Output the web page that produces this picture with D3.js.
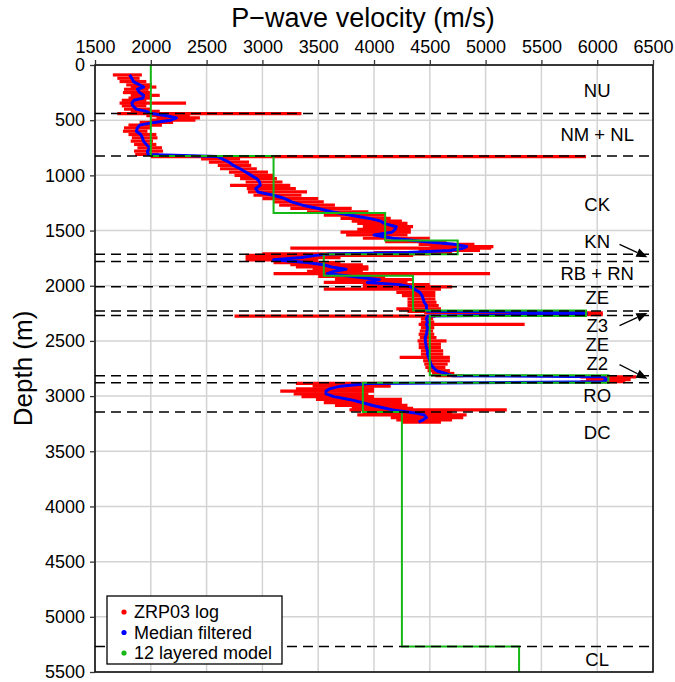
<!DOCTYPE html>
<html>
<head>
<meta charset="utf-8">
<title>P-wave velocity log</title>
<script src="https://d3js.org/d3.v7.min.js"></script>
<style>
  body { margin: 0; background: #fff; }
  text { font-family: "Liberation Sans", Arial, Helvetica, sans-serif; }
</style>
</head>
<body>
<script>
var w = 675, h = 682;

// axis ticks
var velTicks = [1500, 2000, 2500, 3000, 3500, 4000, 4500, 5000, 5500, 6000, 6500];
var depthTicks = [0, 500, 1000, 1500, 2000, 2500, 3000, 3500, 4000, 4500, 5000, 5500];

// ZRP03 log: depth, median filtered value, and low/high spread of the raw log
var logDepth = [90, 120, 150, 180, 200, 220, 250, 275, 300, 320, 345, 370, 400, 420, 440, 460, 480, 500, 520, 545,
  570, 600, 630, 660, 690, 720, 750, 780, 810, 830, 850, 880, 910, 940, 970, 1000, 1030, 1060, 1090, 1120,
  1150, 1180, 1210, 1240, 1270, 1300, 1330, 1360, 1390, 1415, 1435, 1465, 1490, 1515, 1540, 1570, 1600, 1625, 1645, 1660,
  1680, 1700, 1712, 1725, 1745, 1765, 1790, 1810, 1830, 1850, 1870, 1890, 1915, 1945, 1970, 1990, 2010, 2030, 2060, 2090,
  2120, 2150, 2180, 2210, 2232, 2245, 2262, 2275, 2300, 2330, 2350, 2380, 2410, 2440, 2470, 2500, 2530, 2560, 2590, 2620,
  2650, 2680, 2710, 2740, 2770, 2795, 2815, 2825, 2850, 2870, 2885, 2910, 2935, 2955, 2980, 3005, 3030, 3060, 3085, 3110,
  3125, 3150, 3170, 3195, 3215, 3235];
var logMedian = [1810, 1830, 1845, 1900, 1935, 1880, 1900, 1935, 1930, 1850, 1830, 1840, 1870, 1960, 2010, 2140, 2230, 2180, 2030, 1900,
  1880, 1870, 1910, 1925, 1935, 1960, 1990, 1970, 1975, 2600, 2640, 2700, 2740, 2800, 2850, 2900, 2950, 2975, 2980, 2940,
  2960, 3100, 3200, 3260, 3360, 3500, 3620, 3780, 3960, 4060, 4090, 4200, 4190, 4160, 4000, 4170, 4440, 4720, 4830, 4800,
  4680, 4300, 3600, 3480, 3350, 3100, 3400, 3550, 3620, 3750, 3640, 3580, 3790, 4050, 3940, 4230, 4330, 4360, 4410, 4430,
  4440, 4450, 4470, 4470, 4480, 5900, 5900, 4480, 4470, 4480, 4470, 4480, 4475, 4470, 4460, 4460, 4465, 4470, 4480, 4480,
  4490, 4500, 4510, 4530, 4560, 4640, 4700, 6050, 6090, 6050, 3950, 3700, 3600, 3570, 3570, 3640, 3780, 3900, 3990, 4100,
  4170, 4350, 4450, 4470, 4440, 4400];
var logLow = [1660, 1700, 1720, 1780, 1820, 1760, 1750, 1820, 1800, 1740, 1720, 1740, 1760, 1820, 1700, 1960, 2050, 2000, 1900, 1800,
  1760, 1750, 1800, 1830, 1820, 1850, 1880, 1850, 1860, 2000, 2450, 2520, 2600, 2620, 2700, 2750, 2800, 2850, 2710, 2860,
  2870, 2920, 3000, 3100, 3150, 3250, 3400, 3550, 3700, 3800, 3850, 3900, 3850, 3700, 3750, 3900, 4100, 4400, 4500, 3250,
  4400, 4000, 3000, 2850, 2850, 2850, 3100, 3250, 3300, 3450, 3400, 3100, 3500, 3650, 3550, 3900, 3900, 3550, 4200, 4250,
  4300, 4300, 4300, 4200, 4300, 4450, 5800, 2750, 4420, 4420, 4400, 4420, 4410, 4400, 4410, 4390, 4400, 4400, 4420, 4420,
  4230, 4440, 4450, 4460, 4480, 4520, 4550, 5850, 5900, 5850, 3300, 3450, 3300, 3160, 3280, 3350, 3480, 3550, 3650, 3800,
  3780, 3900, 3850, 4150, 4200, 4250];
var logHigh = [1920, 1900, 1960, 2010, 2050, 1980, 2000, 2080, 2010, 1960, 2316, 1960, 2000, 2080, 3350, 2350, 2440, 2400, 2200, 2100,
  2000, 1970, 2050, 2060, 2020, 2050, 2100, 2110, 2070, 5900, 2800, 2880, 2900, 2950, 3050, 3100, 3130, 3180, 3250, 3300,
  3400, 3350, 3500, 3550, 3650, 3800, 3950, 4100, 4150, 4250, 4300, 4350, 4330, 4330, 4300, 4500, 4650, 4900, 5070, 5050,
  4950, 4700, 4500, 4350, 3700, 3500, 3700, 3900, 3950, 3950, 3900, 5040, 4100, 4350, 4300, 4500, 4700, 4600, 4550, 4550,
  4550, 4560, 4580, 4600, 4600, 6050, 6050, 4550, 4530, 4540, 5350, 4540, 4530, 4540, 4560, 4650, 4600, 4600, 4620, 4620,
  4680, 4680, 4660, 4640, 4680, 4720, 4800, 6350, 6300, 6250, 4150, 4150, 4000, 4000, 3950, 4000, 4250, 4250, 4300, 4350,
  5190, 4700, 4830, 4800, 4700, 4600];

// 12 layered model
var layerTop = [0, 825, 1340, 1590, 1715, 1910, 2225, 2275, 2812, 2880, 3145, 5270];
var layerBottom = [825, 1340, 1590, 1715, 1910, 2225, 2275, 2812, 2880, 3145, 5270, 5500];
var layerVel = [2000, 3100, 4100, 4750, 3550, 4350, 5900, 4500, 6100, 3900, 4250, 5300];

// formation boundaries and names
var boundaries = [440, 825, 1715, 1780, 2010, 2230, 2270, 2815, 2878, 3145, 5270];
var unitNames = ["NU", "NM + NL", "CK", "KN", "RB + RN", "ZE", "Z3", "ZE", "Z2", "RO", "DC", "CL"];
var unitDepth = [227, 634, 1268, 1604, 1885, 2111, 2365, 2537, 2709, 2999, 3334, 5391];

// arrows for the thin units: [v0, d0, v1, d1]
var arrows = [[6200, 1625, 6450, 1742], [6200, 2362, 6450, 2246], [6200, 2715, 6450, 2842]];

var legendNames = ["ZRP03 log", "Median filtered", "12 layered model"];
var colRed = "#ff0000", colBlue = "#0000ff", colGreen = "#16b816";
var legendCols = [colRed, colBlue, colGreen];

var svg = d3.select("body").append("svg").attr("width", w).attr("height", h);

var x = d3.scaleLinear().domain([1500, 6500]).range([95, 653]);
var y = d3.scaleLinear().domain([0, 5500]).range([65, 672]);

// grid
svg.append("g").selectAll("line").data(velTicks).enter().append("line")
  .attr("x1", function(d){ return x(d); }).attr("x2", function(d){ return x(d); })
  .attr("y1", y(0)).attr("y2", y(5500))
  .attr("stroke", "#d3d3d3").attr("stroke-width", 1.5);
svg.append("g").selectAll("line").data(depthTicks).enter().append("line")
  .attr("y1", function(d){ return y(d); }).attr("y2", function(d){ return y(d); })
  .attr("x1", x(1500)).attr("x2", x(6500))
  .attr("stroke", "#d3d3d3").attr("stroke-width", 1.5);

// raw log spread
svg.append("g").selectAll("line").data(logDepth).enter().append("line")
  .attr("x1", function(d, i){ return x(logLow[i]); })
  .attr("x2", function(d, i){ return x(logHigh[i]); })
  .attr("y1", function(d){ return y(d); })
  .attr("y2", function(d){ return y(d); })
  .attr("stroke", colRed).attr("stroke-width", 3.2);

// median filtered
var medLine = d3.line()
  .x(function(d, i){ return x(logMedian[i]); })
  .y(function(d){ return y(d); });
svg.append("path").datum(logDepth).attr("d", medLine)
  .attr("fill", "none").attr("stroke", colBlue).attr("stroke-width", 3)
  .attr("stroke-linejoin", "round");

// layered model as steps
var modelPts = [];
layerVel.forEach(function(v, i){
  modelPts.push([v, layerTop[i]]);
  modelPts.push([v, layerBottom[i]]);
});
svg.append("path").datum(modelPts)
  .attr("d", d3.line().x(function(d){ return x(d[0]); }).y(function(d){ return y(d[1]); }))
  .attr("fill", "none").attr("stroke", colGreen).attr("stroke-width", 2);

// boundaries
svg.append("g").selectAll("line").data(boundaries).enter().append("line")
  .attr("x1", x(1500)).attr("x2", x(6500))
  .attr("y1", function(d){ return y(d); }).attr("y2", function(d){ return y(d); })
  .attr("stroke", "#000").attr("stroke-width", 1.5).attr("stroke-dasharray", "10,6");

// unit names
svg.append("g").selectAll("text").data(unitNames).enter().append("text")
  .attr("x", x(6000))
  .attr("y", function(d, i){ return y(unitDepth[i]); })
  .attr("dy", "0.35em")
  .attr("text-anchor", "middle")
  .attr("font-size", "18.5px")
  .text(function(d){ return d; });

// arrows
arrows.forEach(function(a){
  var x0 = x(a[0]), y0 = y(a[1]), x1 = x(a[2]), y1 = y(a[3]);
  var ang = Math.atan2(y1 - y0, x1 - x0);
  var len = 11, half = 4.5;
  var bx = x1 - len * Math.cos(ang), by = y1 - len * Math.sin(ang);
  svg.append("line").attr("x1", x0).attr("y1", y0).attr("x2", bx).attr("y2", by)
    .attr("stroke", "#000").attr("stroke-width", 1.3);
  var pts = [[x1, y1],
    [bx + half * Math.sin(ang), by - half * Math.cos(ang)],
    [bx - half * Math.sin(ang), by + half * Math.cos(ang)]];
  svg.append("polygon").attr("points", pts.map(function(p){ return p.join(","); }).join(" "))
    .attr("fill", "#000");
});

// frame
svg.append("rect").attr("x", x(1500)).attr("y", y(0))
  .attr("width", x(6500) - x(1500)).attr("height", y(5500) - y(0))
  .attr("fill", "none").attr("stroke", "#000").attr("stroke-width", 1.5);

// axes
var xAxis = svg.append("g").attr("transform", "translate(0," + y(0) + ")")
  .call(d3.axisTop(x).tickValues(velTicks).tickSize(5).tickPadding(7).tickFormat(d3.format("d")));
var yAxis = svg.append("g").attr("transform", "translate(" + x(1500) + ",0)")
  .call(d3.axisLeft(y).tickValues(depthTicks).tickSize(5).tickPadding(5).tickFormat(d3.format("d")));
[xAxis, yAxis].forEach(function(g){
  g.select(".domain").remove();
  g.selectAll(".tick line").attr("stroke", "#333").attr("stroke-width", 1.3);
  g.selectAll(".tick text").attr("font-size", "18px").attr("fill", "#000")
    .attr("font-family", "Liberation Sans, Arial, sans-serif");
});

// titles
svg.append("text").attr("x", 363).attr("y", 27)
  .attr("text-anchor", "middle").attr("font-size", "27px").text("P\u2212wave velocity (m/s)");
svg.append("text").attr("transform", "translate(32," + ((y(0) + y(5500)) / 2) + ") rotate(-90)")
  .attr("text-anchor", "middle").attr("font-size", "26px").text("Depth (m)");

// legend
var leg = svg.append("g").attr("transform", "translate(107,596)");
leg.append("rect").attr("width", 175).attr("height", 68)
  .attr("fill", "#fff").attr("stroke", "#000").attr("stroke-width", 1.3);
legendNames.forEach(function(name, i){
  leg.append("circle").attr("cx", 17).attr("cy", 16 + i * 20.5).attr("r", 2.6).attr("fill", legendCols[i]);
  leg.append("text").attr("x", 27).attr("y", 16 + i * 20.5).attr("dy", "0.35em")
    .attr("font-size", "18px").text(name);
});
</script>
</body>
</html>
